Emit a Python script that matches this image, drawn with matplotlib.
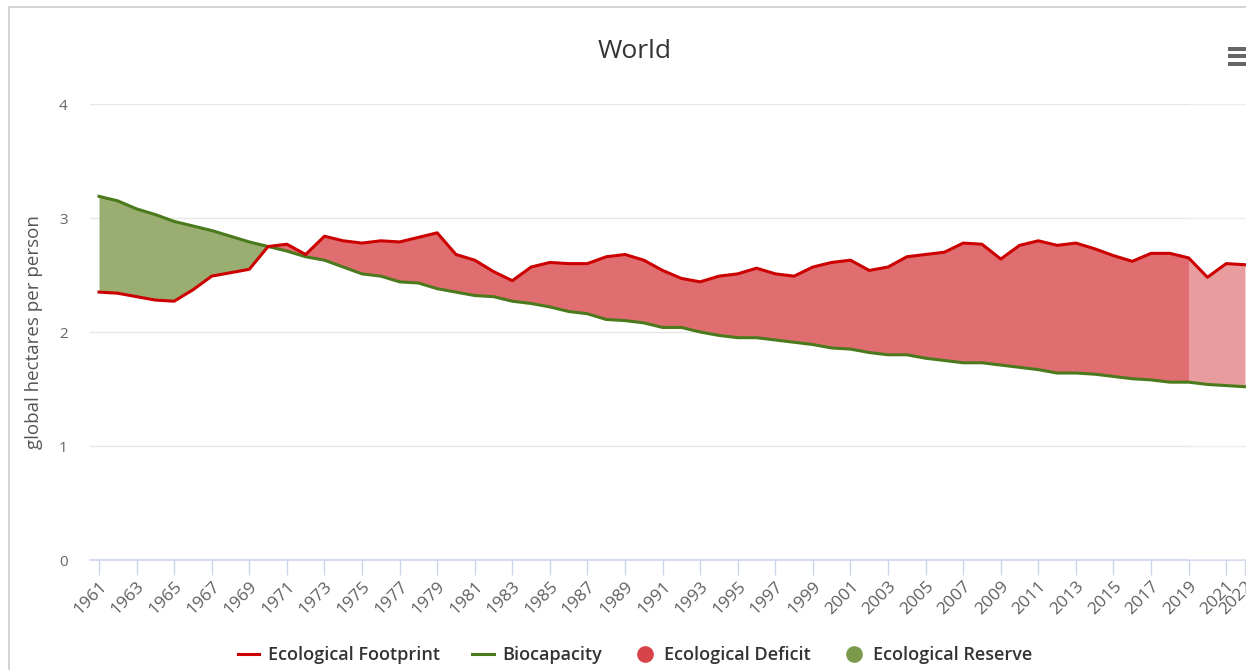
import numpy as np
import matplotlib
matplotlib.use('Agg')
import matplotlib.pyplot as plt
from matplotlib.lines import Line2D
from matplotlib.patches import Rectangle

plt.rcParams['font.family'] = ['Open Sans', 'DejaVu Sans']

# data (global hectares per person)
years = list(range(1961, 2023))
footprint = [2.35, 2.34, 2.31, 2.28, 2.27, 2.37, 2.49, 2.52, 2.55, 2.75,
             2.77, 2.68, 2.84, 2.80, 2.78, 2.80, 2.79, 2.83, 2.87, 2.68,
             2.63, 2.53, 2.45, 2.57, 2.61, 2.60, 2.60, 2.66, 2.68, 2.63,
             2.54, 2.47, 2.44, 2.49, 2.51, 2.56, 2.51, 2.49, 2.57, 2.61,
             2.63, 2.54, 2.57, 2.66, 2.68, 2.70, 2.78, 2.77, 2.64, 2.76,
             2.80, 2.76, 2.78, 2.73, 2.67, 2.62, 2.69, 2.69, 2.65, 2.48,
             2.60, 2.59]
biocapacity = [3.19, 3.15, 3.08, 3.03, 2.97, 2.93, 2.89, 2.84, 2.79, 2.75,
               2.71, 2.66, 2.63, 2.57, 2.51, 2.49, 2.44, 2.43, 2.38, 2.35,
               2.32, 2.31, 2.27, 2.25, 2.22, 2.18, 2.16, 2.11, 2.10, 2.08,
               2.04, 2.04, 2.00, 1.97, 1.95, 1.95, 1.93, 1.91, 1.89, 1.86,
               1.85, 1.82, 1.80, 1.80, 1.77, 1.75, 1.73, 1.73, 1.71, 1.69,
               1.67, 1.64, 1.64, 1.63, 1.61, 1.59, 1.58, 1.56, 1.56, 1.54,
               1.53, 1.52]
tick_years = list(range(1961, 2022, 2)) + [2022]
estimate_from = 2019

red_line = '#cc0000'
green_line = '#4b7a1c'
red_fill = '#e06e70'
green_fill = '#9aae72'

x = np.array(years, dtype=float)
fp = np.array(footprint)
bc = np.array(biocapacity)

fig = plt.figure(figsize=(12.46, 6.7), dpi=100)
ax = fig.add_axes([90 / 1246, 110 / 670, 1156 / 1246, 456 / 670])

# deficit / reserve areas
ax.fill_between(x, fp, bc, where=fp >= bc, interpolate=True,
                color=red_fill, lw=0, zorder=2)
ax.fill_between(x, fp, bc, where=fp <= bc, interpolate=True,
                color=green_fill, lw=0, zorder=2)
# lighter band for estimated years
ax.axvspan(estimate_from, 2022.1, color='white', alpha=0.32, lw=0, zorder=3)

ax.plot(x, bc, color=green_line, lw=2.2, zorder=4)
ax.plot(x, fp, color=red_line, lw=2.2, zorder=5)

ax.set_xlim(1961 - 9 / 18.79, 2022 + 1 / 18.79)
ax.set_ylim(0, 4)

ax.set_yticks([0, 1, 2, 3, 4])
ax.yaxis.grid(True, color='#e6e6e6', lw=1)
ax.set_axisbelow(True)
ax.tick_params(axis='y', length=0, pad=16, labelsize=11, labelcolor='#666666')

ax.set_xticks(tick_years)
ax.set_xticklabels([str(y) for y in tick_years], rotation=45, ha='right',
                   rotation_mode='anchor')
ax.tick_params(axis='x', length=11, width=1, color='#ccd6eb', labelsize=12.5,
               labelcolor='#606060', pad=2)

for s in ['top', 'right', 'left']:
    ax.spines[s].set_visible(False)
ax.spines['bottom'].set_color('#ccd6eb')
ax.spines['bottom'].set_linewidth(1.2)

ax.set_ylabel('global hectares per person', fontsize=13.5, color='#555555')
ax.yaxis.set_label_coords((43 - 90) / 1156, 0.5)

fig.text(635 / 1246, 1 - 51 / 670, 'World', ha='center', va='center',
         fontsize=19, color='#333333')

# chart frame
fig.patches.append(Rectangle((9 / 1246, -0.01), 1.1, 1 - 7 / 670 + 0.01,
                             transform=fig.transFigure, fill=False,
                             edgecolor='#cccccc', lw=1.2))
# context menu icon
for dy in [47, 54, 62]:
    fig.patches.append(Rectangle((1228 / 1246, 1 - (dy + 4) / 670), 18 / 1246, 4 / 670,
                                 transform=fig.transFigure, color='#666666', lw=0))

handles = [
    Line2D([], [], color=red_line, lw=2.2),
    Line2D([], [], color=green_line, lw=2.2),
    Line2D([], [], color='#d9434a', marker='o', ls='none', markersize=11),
    Line2D([], [], color='#7b9a4c', marker='o', ls='none', markersize=11),
]
labels = ['Ecological Footprint', 'Biocapacity', 'Ecological Deficit', 'Ecological Reserve']
leg = fig.legend(handles, labels, loc='center', bbox_to_anchor=(635 / 1246, 1 - 655 / 670),
                 ncol=4, frameon=False, handlelength=1.2, handletextpad=0.45,
                 columnspacing=1.8, prop={'size': 13, 'weight': 'semibold'})
for t in leg.get_texts():
    t.set_color('#333333')

fig.savefig('out.png', dpi=100)
